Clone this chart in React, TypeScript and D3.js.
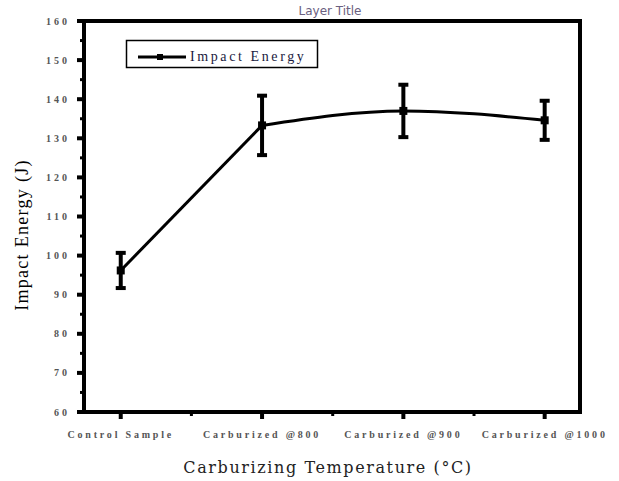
import React from "react";
import * as d3 from "d3";

const categories = ["Control Sample", "Carburized @800", "Carburized @900", "Carburized @1000"];
const energy = [96.2, 133.3, 137.0, 134.6];
const errors = [4.5, 7.6, 6.7, 5.0];
const yTicks = [60, 70, 80, 90, 100, 110, 120, 130, 140, 150, 160];
const yMinor = [65, 75, 85, 95, 105, 115, 125, 135, 145, 155];
const xMinor = [1.5, 2.5, 3.5];

const W = 619, H = 481;
const L = 84, R = 580, T = 21, B = 412;

export default function App() {
  const x = d3.scaleLinear().domain([0.74, 4.25]).range([L, R]);
  const y = d3.scaleLinear().domain([60, 160]).range([B, T]);
  const pts: [number, number][] = energy.map((v, i) => [x(i + 1), y(v)]);
  const line1 = d3.line()(pts.slice(0, 2)) || "";
  const line2 = d3.line().curve(d3.curveMonotoneX)(pts.slice(1)) || "";
  const tickFont = "'Liberation Serif', 'Times New Roman', serif";
  return (
    <svg width={W} height={H} style={{ position: "absolute", left: 0, top: 0, background: "#fff" }}>
      <text x={330} y={15} textAnchor="middle" fontFamily="'DejaVu Sans', sans-serif" fontSize={12} fill="#6a6080">Layer Title</text>
      {/* frame */}
      <rect x={L} y={T} width={R - L} height={B - T} fill="none" stroke="#000" strokeWidth={4} />
      {/* y ticks */}
      {yTicks.map(t => (
        <g key={"y" + t}>
          <line x1={L - 7} x2={L} y1={y(t)} y2={y(t)} stroke="#000" strokeWidth={4} />
          <text x={70} y={y(t) + 3.5} textAnchor="end" fontFamily={tickFont} fontWeight="bold" fontSize={10} letterSpacing={3} fill="#555">{t}</text>
        </g>
      ))}
      {yMinor.map(t => (
        <line key={"ym" + t} x1={L - 4} x2={L} y1={y(t)} y2={y(t)} stroke="#000" strokeWidth={3} />
      ))}
      {/* x ticks */}
      {categories.map((c, i) => (
        <g key={c}>
          <line x1={x(i + 1)} x2={x(i + 1)} y1={B} y2={B + 7} stroke="#000" strokeWidth={4} />
          <text x={x(i + 1)} y={438} textAnchor="middle" fontFamily={tickFont} fontWeight="bold" fontSize={10} letterSpacing={2.8} fill="#555">{c}</text>
        </g>
      ))}
      {xMinor.map(t => (
        <line key={"xm" + t} x1={x(t)} x2={x(t)} y1={B} y2={B + 4} stroke="#000" strokeWidth={3} />
      ))}
      {/* data line */}
      <path d={line1} fill="none" stroke="#000" strokeWidth={3} />
      <path d={line2} fill="none" stroke="#000" strokeWidth={3} />
      {/* error bars */}
      {energy.map((v, i) => (
        <g key={"e" + i}>
          <line x1={x(i + 1)} x2={x(i + 1)} y1={y(v - errors[i])} y2={y(v + errors[i])} stroke="#000" strokeWidth={4} />
          <line x1={x(i + 1) - 5} x2={x(i + 1) + 5} y1={y(v - errors[i])} y2={y(v - errors[i])} stroke="#000" strokeWidth={4} />
          <line x1={x(i + 1) - 5} x2={x(i + 1) + 5} y1={y(v + errors[i])} y2={y(v + errors[i])} stroke="#000" strokeWidth={4} />
          <rect x={x(i + 1) - 4} y={y(v) - 4} width={8} height={8} fill="#000" />
        </g>
      ))}
      {/* legend */}
      <rect x={126.5} y={40.5} width={191} height={27} fill="#fff" stroke="#000" strokeWidth={1.5} />
      <line x1={138} x2={186} y1={57} y2={57} stroke="#000" strokeWidth={3} />
      <rect x={157} y={54} width={6} height={6} fill="#000" />
      <text x={190} y={61} fontFamily={tickFont} fontSize={14} letterSpacing={2.6} fill="#1a1a40">Impact Energy</text>
      {/* axis titles */}
      <text transform={`translate(28,235) rotate(-90)`} textAnchor="middle" fontFamily={tickFont} fontSize={18} letterSpacing={1.3} fill="#000">Impact Energy (J)</text>
      <text x={328} y={473} textAnchor="middle" fontFamily="'DejaVu Serif', serif" fontSize={16} letterSpacing={1.6} fill="#222">Carburizing Temperature (°C)</text>
    </svg>
  );
}
